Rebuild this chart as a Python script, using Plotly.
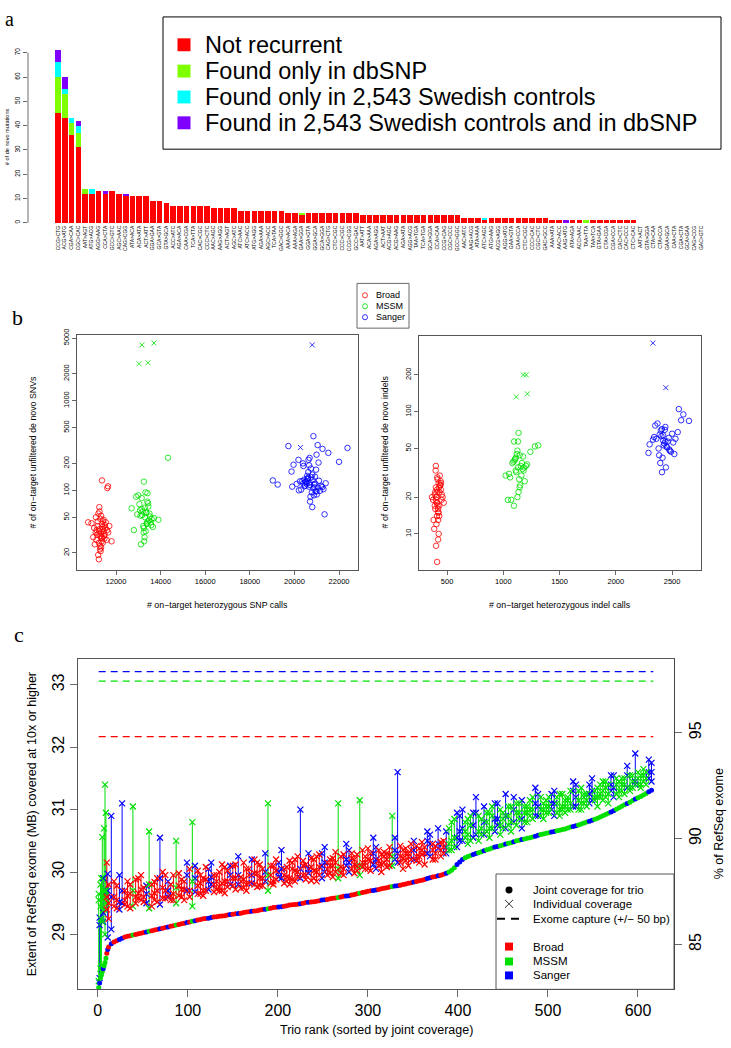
import plotly.graph_objects as go

W, H = 731, 1048
SANS = "Liberation Sans, Arial, Helvetica, sans-serif"
SERIF = "Liberation Serif, DejaVu Serif, serif"


def fx(p):
    return p / W


def fy(p):
    return 1 - p / H


# ---------------- Panel a : recurrent de novo mutation contexts ----------------
mutation_labels = [
    "CCG>CTG", "ACG>ATG", "CGA>CAA", "CGC>CAC", "AAT>AGT", "ATG>ACG", "AGG>AAG", "CCA>CTA", "GCC>GTC", "AGC>AAC",
    "CAG>CGG", "ATA>ACA", "ACA>ATA", "ACT>ATT", "GGA>GAA", "GCA>GTA", "GTA>GCA", "ACC>ATC", "AGA>ACA", "CAA>CGA",
    "TCA>TTA", "CAC>CGC", "CCC>CTC", "AAC>AGC", "AAG>AGG", "ACT>AGT", "AGC>ATC", "ATC>AAC", "ATC>ACC", "ATG>AGG",
    "AGA>AAA", "AGC>ACC", "TCA>TAA", "GAC>GGC", "AAA>ACA", "AAA>AGA", "GAA>GGA", "GGA>GTA", "GGA>GCA", "GCA>GGA",
    "CAG>CTG", "CTC>CGC", "CCC>CGC", "CCG>CGG", "GCC>GAC", "AAT>ATT", "ACA>AAA", "AGA>AGG", "ACT>AAT", "ACG>AGC",
    "ACG>AAG", "AGA>ATA", "AGG>ACG", "TAA>TGA", "TCA>TGA", "GCA>GGA", "CCA>CAA", "CCG>CAG", "CGC>CCC", "GCC>GGC",
    "AAC>ATC", "AAG>ACG", "ATA>AAA", "ATC>AGC", "ATG>AAG", "ACG>AGG", "AGG>ATG", "GAA>GTA", "CAA>CCA", "CTC>CGC",
    "CCC>CAC", "CGC>CTC", "GAC>GCC", "AAA>ATA", "AAC>ACC", "AAG>ATG", "ATA>AGA", "ACC>AAC", "TAA>TTA", "TAA>TCA",
    "GTA>GAA", "CTA>CGA", "CGA>CCA", "CAC>CTC", "CAC>CCC", "CTC>CAC", "AAT>ACT", "GTA>GGA", "CTA>CAA", "CTA>CCA",
    "GAA>GCA", "CAA>CTA", "CGA>CTA", "GCA>GAA", "CAG>CCG", "GAC>GTC",
]
not_recurrent = [
    45, 43, 36, 31, 12, 12, 13, 12, 13, 12,
    11, 11, 11, 11, 9, 9, 8, 7, 7, 7,
    7, 7, 7, 6, 6, 6, 6, 5, 5, 5,
    5, 5, 5, 5, 4, 4, 3, 4, 4, 4,
    4, 4, 4, 4, 4, 3, 3, 3, 3, 3,
    3, 3, 3, 3, 3, 3, 3, 3, 3, 3,
    2, 2, 2, 1, 2, 2, 2, 2, 2, 2,
    2, 2, 2, 1, 1, 0, 1, 1, 0, 1,
    1, 1, 1, 1, 1, 1, 0, 0, 0, 0,
    0, 0, 0, 0, 0, 0,
]
only_dbsnp = [
    15, 10, 5, 6, 2, 0, 0, 0, 0, 0,
    0, 0, 0, 0, 0, 0, 0, 0, 0, 0,
    0, 0, 0, 0, 0, 0, 0, 0, 0, 0,
    0, 0, 0, 0, 0, 0, 1, 0, 0, 0,
    0, 0, 0, 0, 0, 0, 0, 0, 0, 0,
    0, 0, 0, 0, 0, 0, 0, 0, 0, 0,
    0, 0, 0, 0, 0, 0, 0, 0, 0, 0,
    0, 0, 0, 0, 0, 0, 0, 0, 1, 0,
    0, 0, 0, 0, 0, 0, 0, 0, 0, 0,
    0, 0, 0, 0, 0, 0,
]
only_swedish = [
    6, 2, 2, 3, 0, 2, 0, 0, 0, 0,
    0, 0, 0, 0, 0, 0, 0, 0, 0, 0,
    0, 0, 0, 0, 0, 0, 0, 0, 0, 0,
    0, 0, 0, 0, 0, 0, 0, 0, 0, 0,
    0, 0, 0, 0, 0, 0, 0, 0, 0, 0,
    0, 0, 0, 0, 0, 0, 0, 0, 0, 0,
    0, 0, 0, 1, 0, 0, 0, 0, 0, 0,
    0, 0, 0, 0, 0, 0, 0, 0, 0, 0,
    0, 0, 0, 0, 0, 0, 0, 0, 0, 0,
    0, 0, 0, 0, 0, 0,
]
swedish_and_dbsnp = [
    5, 5, 0, 2, 0, 0, 0, 1, 0, 0,
    1, 0, 0, 0, 0, 0, 0, 0, 0, 0,
    0, 0, 0, 0, 0, 0, 0, 0, 0, 0,
    0, 0, 0, 0, 0, 0, 0, 0, 0, 0,
    0, 0, 0, 0, 0, 0, 0, 0, 0, 0,
    0, 0, 0, 0, 0, 0, 0, 0, 0, 0,
    0, 0, 0, 0, 0, 0, 0, 0, 0, 0,
    0, 0, 0, 0, 0, 1, 0, 0, 0, 0,
    0, 0, 0, 0, 0, 0, 0, 0, 0, 0,
    0, 0, 0, 0, 0, 0,
]
bar_series_names = ["Not recurrent", "Found only in dbSNP", "Found only in 2,543 Swedish controls",
                    "Found in 2,543 Swedish controls and in dbSNP"]
bar_series_colors = ["#FF0000", "#7FFF00", "#00FFFF", "#7F00FF"]

# ---------------- Panel b : de novo calls vs heterozygous calls ----------------
broad_snp_calls = [11250, 11380, 11120, 11460, 11300, 11050, 11520, 11210, 11350, 11410,
                   10980, 11600, 11280, 11170, 11330, 11480, 11090, 11230, 11390, 11540,
                   11150, 11310, 11420, 11260, 10900, 11650, 11200, 11360, 11440, 11130,
                   11290, 11500, 11020, 11340, 11250, 11580, 11180, 11400, 11310, 11700,
                   10750, 11450, 11230, 11370, 11100, 11800, 11270, 11330, 11210, 11490,
                   11370, 11640, 11610]
broad_snv_denovo = [35, 42, 28, 31, 48, 25, 38, 33, 27, 45,
                    30, 36, 22, 40, 52, 29, 34, 26, 39, 44,
                    32, 21, 37, 58, 43, 34, 19, 30, 47, 36,
                    24, 41, 38, 33, 65, 28, 45, 26, 31, 40,
                    44, 35, 17, 29, 50, 27, 37, 23, 55, 32,
                    129, 111, 106]
mssm_snp_calls = [13300, 13150, 13420, 13250, 13500, 13050, 13380, 13200, 13600, 12900,
                  13330, 13450, 13100, 13280, 13550, 13000, 13360, 13220, 13700, 12800,
                  13400, 13180, 13480, 13320, 13080, 13650, 13260, 13520, 12700, 13380,
                  13150, 13900, 13240, 13440, 13350, 13120, 13580, 13290, 13410, 12950,
                  14330, 13250]
mssm_snv_denovo = [50, 62, 45, 38, 55, 70, 42, 58, 48, 85,
                   35, 66, 52, 30, 44, 88, 57, 40, 49, 36,
                   75, 53, 46, 95, 60, 39, 27, 51, 63, 43,
                   82, 47, 34, 72, 56, 25, 41, 64, 93, 54,
                   231, 125]
sanger_snp_calls = [20700, 20500, 20850, 20600, 20950, 20400, 20750, 20650, 21100, 20300,
                    20800, 20550, 21000, 20450, 20900, 20680, 20200, 21200, 20620, 20780,
                    20350, 20880, 20720, 21300, 20100, 20570, 20820, 20480, 20990, 20660,
                    21400, 19900, 20740, 20530, 20870, 20610, 21050, 20380, 20930, 20700,
                    20250, 21150, 20580, 20800, 20450, 21250, 20680, 20920,
                    20850, 22380, 22000, 19030, 19250, 21350, 19730, 21040, 21260, 21520,
                    20990, 20180, 20630, 19960, 19870, 20400, 21080, 20970]
sanger_snv_denovo = [115, 125, 105, 135, 98, 120, 140, 110, 128, 102,
                     150, 118, 90, 132, 108, 122, 100, 112, 160, 95,
                     127, 116, 85, 103, 118, 145, 130, 113, 97, 190,
                     120, 110, 175, 124, 88, 138, 107, 200, 119, 75,
                     126, 99, 133, 65, 111, 109, 230, 142,
                     402, 297, 208, 129, 116, 54, 312, 320, 290, 262,
                     250, 219, 219, 193, 162, 187, 204, 170]
mssm_snv_outlier_calls = [13160, 13700, 13030, 13430]
mssm_snv_outlier_denovo = [4190, 4400, 2590, 2650]
sanger_snv_outlier_calls = [20800, 20270]
sanger_snv_outlier_denovo = [4190, 301]

broad_indel_calls = [410, 395, 425, 440, 405, 380, 430, 415, 450, 400,
                     420, 390, 435, 410, 445, 375, 425, 405, 460, 415,
                     398, 432, 418, 385, 442, 408, 428, 395, 452, 412,
                     420, 402, 438, 365, 425, 410, 470, 400, 430, 415,
                     390, 445, 420, 405, 411, 402]
broad_indel_denovo = [18, 22, 15, 25, 20, 13, 17, 28, 19, 24,
                      16, 21, 30, 14, 23, 19, 26, 12, 20, 17,
                      33, 22, 15, 11, 27, 18, 24, 16, 21, 29,
                      13, 19, 25, 20, 10, 23, 18, 36, 14, 22,
                      17, 26, 9, 20, 5.9, 8]
mssm_indel_calls = [1130, 1100, 1160, 1120, 1180, 1080, 1140, 1110, 1200, 1050,
                    1150, 1125, 1170, 1090, 1135, 1210, 1060, 1145, 1115, 1190,
                    1105, 1155, 1125, 1280, 1020, 1165, 1135, 1095, 1175, 1145,
                    1240, 1070, 1130, 1185, 1110, 1094, 1040, 1310]
mssm_indel_denovo = [35, 40, 30, 45, 33, 38, 28, 42, 36, 31,
                     25, 48, 34, 39, 22, 37, 29, 44, 32, 27,
                     41, 36, 20, 52, 30, 38, 67, 57, 43, 24,
                     47, 19, 57, 35, 33, 17, 19, 53]
sanger_indel_calls = [2420, 2390, 2450, 2400, 2480, 2360, 2430, 2410, 2520, 2340,
                      2460, 2380, 2500, 2415, 2440, 2300, 2470, 2395, 2550, 2425,
                      2370, 2490, 2405, 2445, 2330, 2510, 2435, 2385, 2580, 2455,
                      2420, 2600, 2350, 2475, 2410, 2530, 2440, 2290, 2650, 2560]
sanger_indel_denovo = [58, 65, 52, 70, 48, 60, 55, 72, 45, 62,
                       57, 50, 66, 42, 75, 54, 61, 38, 68, 53,
                       80, 47, 63, 35, 59, 56, 71, 44, 85, 51,
                       64, 95, 77, 49, 32, 60, 57, 46, 84, 105]
mssm_indel_outlier_calls = [1178, 1204, 1115, 1213]
mssm_indel_outlier_denovo = [200, 200, 132, 140]
sanger_indel_outlier_calls = [2329, 2444]
sanger_indel_outlier_denovo = [364, 157]

center_names = ["Broad", "MSSM", "Sanger"]
center_codes = ["B", "M", "S"]
center_colors = {"B": "#FF0000", "M": "#00E000", "S": "#0000FF"}

# ---------------- Panel c : coverage per trio (set 1) ----------------
trio_rank = list(range(1, 13)) + list(range(15, 616, 6))
trio_center = list("MSMMMSMMMBSB"
                   "SBSBMBBMBS" "BBMBSMBBSB" "BBSBBBSBBM" "BSBBBSBBBS" "BBMBSBMBBS" "BBMSBBSBBS" "BB"
                   "SMSSMSMSMS" "MSMMSMMSMM" "SMMMSMMSMM" "MSMMMSMMS")
joint_mb = [
    28.15, 28.22, 28.30, 28.35, 28.40, 28.45, 28.50, 28.55, 28.62, 28.70, 28.76, 28.80,
    28.85, 28.90, 28.94, 28.97, 28.99, 29.01, 29.03, 29.05, 29.07, 29.09,
    29.11, 29.13, 29.15, 29.17, 29.19, 29.21, 29.23, 29.25, 29.26, 29.28,
    29.29, 29.30, 29.32, 29.33, 29.34, 29.36, 29.37, 29.38, 29.40, 29.41,
    29.43, 29.44, 29.45, 29.47, 29.48, 29.49, 29.51, 29.52, 29.53, 29.55,
    29.56, 29.58, 29.59, 29.61, 29.62, 29.64, 29.66, 29.68, 29.70, 29.71,
    29.73, 29.75, 29.77, 29.78, 29.80, 29.82, 29.84, 29.86, 29.88, 29.91,
    29.93, 29.95,
    29.98, 30.03, 30.12, 30.20, 30.25, 30.28, 30.31, 30.34, 30.37, 30.40,
    30.42, 30.45, 30.47, 30.50, 30.52, 30.54, 30.56, 30.59, 30.61, 30.63,
    30.65, 30.67, 30.69, 30.72, 30.74, 30.77, 30.80, 30.83, 30.86, 30.90,
    30.94, 30.98, 31.03, 31.08, 31.12, 31.17, 31.21, 31.26, 31.31,
]
child_mb = [
    28.25, 28.30, 28.45, 29.25, 29.60, 29.20, 29.40, 29.00, 29.70, 29.40, 28.95, 29.50,
    29.08, 29.55, 29.50, 29.62, 29.70, 29.58, 29.75, 29.42, 29.66, 29.48,
    29.70, 29.80, 29.50, 29.72, 29.95, 29.45, 29.78, 29.90, 29.85, 29.68,
    30.00, 29.85, 29.80, 29.90, 29.74, 30.05, 29.95, 29.76, 29.90, 29.70,
    30.10, 29.92, 29.82, 30.18, 29.85, 29.90, 30.12, 29.86, 30.00, 30.10,
    29.95, 30.22, 29.90, 30.05, 30.15, 29.98, 30.10, 30.25, 30.02, 30.20,
    30.12, 30.30, 30.10, 30.15, 30.22, 30.10, 30.35, 30.15, 30.30, 30.45,
    30.20, 30.35,
    30.40, 30.50, 30.55, 30.70, 30.60, 30.75, 30.65, 30.80, 30.70, 30.85,
    30.75, 30.90, 30.80, 30.95, 30.85, 30.80, 31.00, 30.90, 31.10, 30.95,
    31.10, 31.00, 31.15, 31.00, 31.20, 31.10, 31.25, 31.15, 31.20, 31.30,
    31.25, 31.35, 31.30, 31.40, 31.35, 31.45, 31.40, 31.50, 31.45,
]
father_mb = [
    29.65, 29.27, 29.80, 29.90, 30.56, 29.35, 30.70, 31.40, 30.95, 30.15, 29.97, 29.80,
    30.90, 29.78, 31.10, 29.45, 31.05, 29.90, 29.52, 30.65, 29.84, 30.55,
    29.58, 29.62, 30.50, 29.88, 29.70, 30.80, 29.65, 29.70, 30.05, 29.95,
    29.76, 29.66, 30.10, 30.12, 29.92, 29.80, 30.20, 29.98, 29.78, 31.10,
    29.85, 30.15, 30.05, 29.90, 30.02, 31.00, 29.88, 30.08, 30.25, 29.90,
    30.15, 29.92, 31.10, 30.28, 30.00, 30.20, 31.15, 30.05, 30.30, 30.40,
    30.28, 30.08, 30.90, 31.60, 30.05, 30.30, 30.20, 30.38, 30.12, 30.25,
    30.42, 30.25,
    30.65, 30.80, 30.95, 30.50, 30.85, 30.55, 30.90, 31.05, 30.55, 30.65,
    31.00, 30.70, 30.65, 30.75, 31.15, 31.05, 30.85, 31.25, 30.85, 31.20,
    30.90, 31.25, 30.95, 31.30, 31.05, 31.35, 31.05, 31.50, 31.05, 31.15,
    31.40, 31.20, 31.45, 31.25, 31.55, 31.90, 31.55, 31.40, 31.75,
]
mother_mb = [
    29.55, 29.15, 29.45, 28.50, 29.20, 29.90, 29.70, 29.60, 29.50, 29.60, 29.70, 29.25,
    29.60, 29.42, 29.70, 29.85, 29.45, 29.66, 29.60, 29.80, 29.55, 29.90,
    29.95, 29.55, 29.75, 29.60, 30.15, 29.85, 30.02, 29.62, 29.72, 29.80,
    29.70, 30.08, 29.95, 29.72, 29.85, 29.70, 29.82, 30.15, 30.05, 29.95,
    29.80, 30.00, 29.95, 29.80, 30.20, 30.05, 29.95, 30.22, 29.85, 30.30,
    30.05, 30.10, 30.05, 29.95, 30.35, 30.12, 29.95, 30.15, 30.18, 30.05,
    30.00, 30.20, 30.25, 30.30, 30.35, 30.25, 30.50, 30.25, 30.40, 30.60,
    30.30, 30.48,
    30.30, 30.35, 30.40, 31.00, 30.45, 30.95, 30.50, 30.60, 30.95, 31.10,
    30.60, 31.25, 31.05, 31.10, 30.70, 30.95, 31.20, 31.05, 31.00, 31.05,
    31.30, 30.90, 31.05, 31.10, 31.40, 31.00, 31.15, 31.30, 31.35, 31.45,
    31.10, 31.55, 31.20, 31.50, 31.30, 31.40, 31.35, 31.60, 31.60,
]

# ---------------- Panel c : coverage per trio (set 2, in-between ranks) ----------------
trio_rank_2 = list(range(18, 613, 6))
trio_center_2 = list("BSBBBBSBBB" "SBBBBSBBSB" "BBBSBBBBSB" "BSBBBBSBBS" "BBBSBBBBSB" "BBSBBBBBSB" "SB"
                     "MMSMMSMMMS" "MMSMMMSMMS" "MMMSMMSMMM" "SMMSMMMS")
joint_mb_2 = [
    28.88, 28.92, 28.96, 28.98, 29.00, 29.02, 29.04, 29.06, 29.08, 29.10,
    29.12, 29.14, 29.16, 29.18, 29.20, 29.22, 29.24, 29.255, 29.27, 29.285,
    29.295, 29.31, 29.325, 29.335, 29.35, 29.365, 29.375, 29.39, 29.405, 29.42,
    29.435, 29.445, 29.46, 29.475, 29.485, 29.50, 29.515, 29.525, 29.54, 29.555,
    29.57, 29.585, 29.60, 29.615, 29.63, 29.65, 29.67, 29.69, 29.705, 29.72,
    29.74, 29.76, 29.775, 29.79, 29.81, 29.83, 29.85, 29.87, 29.895, 29.92,
    29.94, 29.965,
    30.00, 30.07, 30.16, 30.23, 30.265, 30.295, 30.325, 30.355, 30.385, 30.41,
    30.435, 30.46, 30.485, 30.51, 30.53, 30.55, 30.575, 30.60, 30.62, 30.64,
    30.66, 30.68, 30.705, 30.73, 30.755, 30.785, 30.815, 30.845, 30.88, 30.92,
    30.96, 31.005, 31.055, 31.10, 31.145, 31.19, 31.235, 31.285,
]
child_mb_2 = [
    29.60, 29.52, 29.70, 29.42, 29.88, 29.55, 29.65, 29.80, 29.52, 29.75,
    29.60, 29.95, 29.62, 29.85, 29.70, 29.90, 29.65, 29.88, 30.15, 29.72,
    29.82, 30.02, 29.78, 29.95, 29.88, 30.05, 29.80, 30.12, 29.85, 29.95,
    30.20, 29.90, 30.08, 29.88, 30.25, 29.95, 30.30, 30.02, 29.95, 30.15,
    30.20, 30.00, 30.25, 30.10, 30.05, 30.28, 30.15, 30.05, 30.30, 30.18,
    30.32, 30.10, 30.35, 30.25, 30.38, 30.20, 30.42, 30.28, 30.50, 30.35,
    30.45, 30.30,
    30.45, 30.55, 30.65, 30.55, 30.75, 30.60, 30.85, 30.65, 30.90, 30.75,
    30.95, 30.75, 31.00, 30.85, 31.05, 30.90, 31.10, 31.00, 31.15, 31.00,
    31.10, 31.05, 31.20, 31.05, 31.15, 31.25, 31.10, 31.30, 31.20, 31.35,
    31.30, 31.40, 31.30, 31.55, 31.45, 31.40, 31.55, 31.50,
]
father_mb_2 = [
    29.45, 29.95, 29.55, 29.80, 29.60, 29.72, 29.50, 29.62, 29.90, 29.58,
    29.85, 29.65, 29.78, 29.55, 30.05, 29.68, 29.82, 30.08, 29.80, 29.95,
    29.70, 29.85, 30.10, 29.80, 30.15, 29.82, 29.98, 29.90, 30.30, 30.10,
    29.88, 30.05, 29.92, 30.15, 30.00, 30.18, 30.05, 29.90, 30.28, 30.00,
    29.98, 30.32, 30.08, 30.45, 30.22, 30.10, 30.35, 30.20, 30.12, 30.35,
    30.15, 30.28, 30.20, 30.42, 30.18, 30.35, 30.25, 30.48, 30.30, 30.20,
    30.70, 30.50,
    30.70, 30.40, 30.90, 30.80, 30.50, 30.95, 30.60, 30.95, 30.70, 31.10,
    30.70, 31.05, 30.80, 31.10, 30.80, 31.15, 30.90, 31.20, 30.95, 31.25,
    30.95, 31.25, 31.00, 31.30, 31.00, 31.10, 31.40, 31.15, 31.40, 31.20,
    31.55, 31.25, 31.50, 31.35, 31.35, 31.60, 31.45, 31.80,
]
mother_mb_2 = [
    29.85, 29.40, 29.48, 29.65, 29.50, 29.95, 29.78, 29.45, 29.70, 30.00,
    29.70, 29.55, 29.98, 29.72, 29.60, 30.10, 29.95, 29.70, 29.92, 29.85,
    30.12, 29.76, 29.90, 30.25, 29.75, 29.95, 30.20, 29.78, 30.00, 29.82,
    30.02, 30.35, 29.85, 30.05, 29.92, 30.10, 29.98, 30.20, 30.08, 30.40,
    30.10, 30.15, 29.98, 30.20, 30.30, 30.02, 30.08, 30.38, 30.55, 30.10,
    30.25, 30.40, 30.55, 30.15, 30.30, 30.45, 30.18, 30.35, 30.65, 30.45,
    30.38, 30.40,
    30.35, 30.85, 30.50, 30.65, 30.90, 31.20, 30.70, 30.80, 31.05, 30.85,
    30.85, 30.90, 31.20, 30.95, 30.95, 31.00, 31.35, 30.90, 31.05, 31.10,
    31.20, 31.00, 31.15, 31.45, 31.30, 31.20, 31.25, 31.20, 31.25, 31.45,
    31.40, 31.50, 31.40, 31.70, 31.55, 31.50, 31.65, 31.60,
]

capture_mb = {"B": 32.17, "M": 33.06, "S": 33.21}
capture_rank_span = [1, 617]
exome_total_mb = 33.93
cov_range_mb = [28.12, 33.41]

all_trios = sorted(zip(trio_rank + trio_rank_2, trio_center + trio_center_2, joint_mb + joint_mb_2,
                       child_mb + child_mb_2, father_mb + father_mb_2, mother_mb + mother_mb_2))

# ---------------- build figure ----------------
fig = go.Figure()

bar_pos = list(range(len(mutation_labels)))
for name, vals, col in zip(bar_series_names,
                           [not_recurrent, only_dbsnp, only_swedish, swedish_and_dbsnp],
                           bar_series_colors):
    fig.add_trace(go.Bar(x=bar_pos, y=vals, name=name, marker=dict(color=col, line=dict(width=0)),
                         width=0.83, xaxis="x", yaxis="y", hoverinfo="skip"))


def open_pts(x, y, col, xa, ya, sym="circle-open", size=5.5):
    return go.Scatter(x=x, y=y, mode="markers", xaxis=xa, yaxis=ya, hoverinfo="skip",
                      marker=dict(symbol=sym, size=size, color=col, line=dict(width=0.8, color=col)))


fig.add_trace(open_pts(broad_snp_calls, broad_snv_denovo, center_colors["B"], "x2", "y2"))
fig.add_trace(open_pts(mssm_snp_calls, mssm_snv_denovo, center_colors["M"], "x2", "y2"))
fig.add_trace(open_pts(sanger_snp_calls, sanger_snv_denovo, center_colors["S"], "x2", "y2"))
fig.add_trace(open_pts(mssm_snv_outlier_calls, mssm_snv_outlier_denovo, center_colors["M"], "x2", "y2", "x-thin-open", 5))
fig.add_trace(open_pts(sanger_snv_outlier_calls, sanger_snv_outlier_denovo, center_colors["S"], "x2", "y2", "x-thin-open", 5))
fig.add_trace(open_pts(broad_indel_calls, broad_indel_denovo, center_colors["B"], "x3", "y3"))
fig.add_trace(open_pts(mssm_indel_calls, mssm_indel_denovo, center_colors["M"], "x3", "y3"))
fig.add_trace(open_pts(sanger_indel_calls, sanger_indel_denovo, center_colors["S"], "x3", "y3"))
fig.add_trace(open_pts(mssm_indel_outlier_calls, mssm_indel_outlier_denovo, center_colors["M"], "x3", "y3", "x-thin-open", 5))
fig.add_trace(open_pts(sanger_indel_outlier_calls, sanger_indel_outlier_denovo, center_colors["S"], "x3", "y3", "x-thin-open", 5))

for code in center_codes:
    fig.add_trace(go.Scatter(x=capture_rank_span, y=[capture_mb[code]] * 2, mode="lines",
                             line=dict(color=center_colors[code], width=1.3, dash="7px,5px"),
                             xaxis="x4", yaxis="y4", hoverinfo="skip"))

for code in ["S", "M", "B"]:
    xs, ys = [], []
    for r, c, j, a, b, m in all_trios:
        if c == code:
            xs += [r, r, None]
            ys += [min(a, b, m), max(a, b, m), None]
    fig.add_trace(go.Scatter(x=xs, y=ys, mode="lines", line=dict(color=center_colors[code], width=1.0),
                             xaxis="x4", yaxis="y4", hoverinfo="skip"))

for code in ["S", "M", "B"]:
    xs, ys = [], []
    for r, c, j, a, b, m in all_trios:
        if c == code:
            xs += [r, r, r]
            ys += [a, b, m]
    fig.add_trace(go.Scatter(x=xs, y=ys, mode="markers", xaxis="x4", yaxis="y4", hoverinfo="skip",
                             marker=dict(symbol="x-thin-open", size=6, color=center_colors[code],
                                         line=dict(width=1.2, color=center_colors[code]))))

fig.add_trace(go.Scatter(x=[t[0] for t in all_trios], y=[t[2] for t in all_trios], mode="markers",
                         xaxis="x4", yaxis="y4", hoverinfo="skip",
                         marker=dict(symbol="circle", size=5, color=[center_colors[t[1]] for t in all_trios],
                                     line=dict(width=0))))
fig.add_trace(go.Scatter(x=[None], y=[None], mode="markers", xaxis="x4", yaxis="y5", hoverinfo="skip"))

AX = "#444444"
common_ax = dict(showgrid=False, zeroline=False, ticks="outside", tickcolor=AX, tickwidth=0.8,
                 linecolor=AX, linewidth=0.9)
tick_only = dict(showgrid=False, zeroline=False, ticks="outside", tickcolor=AX, tickwidth=0.8)

fig.update_layout(
    width=W, height=H, margin=dict(l=0, r=0, t=0, b=0),
    paper_bgcolor="white", plot_bgcolor="white", showlegend=False,
    barmode="stack", font=dict(family=SANS, color="black"),
    xaxis=dict(domain=[fx(28), fx(706)], range=[-4.43, 95.7], tickmode="array", tickvals=bar_pos,
               ticktext=mutation_labels, tickangle=-90, tickfont=dict(size=5), ticks="",
               showline=False, showgrid=False, zeroline=False, anchor="y"),
    yaxis=dict(domain=[fy(219), fy(40)], range=[-0.41, 72.86], tickmode="array",
               tickvals=[0, 10, 20, 30, 40, 50, 60, 70], tickangle=-90, tickfont=dict(size=6.5),
               ticklen=4, showline=False, anchor="x", **tick_only),
    xaxis2=dict(domain=[fx(77), fx(358)], range=[10250, 22850], tickmode="array",
                tickvals=[12000, 14000, 16000, 18000, 20000, 22000],
                ticktext=["12000", "14000", "16000", "18000", "20000", "22000"], tickfont=dict(size=7.5),
                ticklen=4, showline=True, mirror=True, anchor="y2", **common_ax),
    yaxis2=dict(domain=[fy(567), fy(331)], type="log", range=[1.114, 3.732], tickmode="array",
                tickvals=[20, 50, 100, 200, 500, 1000, 2000, 5000],
                ticktext=["20", "50", "100", "200", "500", "1000", "2000", "5000"],
                tickangle=-90, tickfont=dict(size=7.5), ticklen=4, showline=True, mirror=True,
                anchor="x2", **common_ax),
    xaxis3=dict(domain=[fx(419), fx(701)], range=[250, 2757], tickmode="array",
                tickvals=[500, 1000, 1500, 2000, 2500], ticktext=["500", "1000", "1500", "2000", "2500"],
                tickfont=dict(size=7.5), ticklen=4, showline=True, mirror=True, anchor="y3", **common_ax),
    yaxis3=dict(domain=[fy(567), fy(332)], type="log", range=[0.707, 2.618], tickmode="array",
                tickvals=[10, 20, 50, 100, 200], ticktext=["10", "20", "50", "100", "200"],
                tickangle=-90, tickfont=dict(size=7.5), ticklen=4, showline=True, mirror=True,
                anchor="x3", **common_ax),
    xaxis4=dict(domain=[fx(78), fx(674)], range=[-22, 640], tickmode="array",
                tickvals=[0, 100, 200, 300, 400, 500, 600], tickfont=dict(size=16),
                ticklen=7, showline=True, mirror=True, anchor="y4", **common_ax),
    yaxis4=dict(domain=[fy(989), fy(657)], range=cov_range_mb, tickmode="array",
                tickvals=[29, 30, 31, 32, 33], tickangle=-90, tickfont=dict(size=16),
                ticklen=7, showline=True, mirror=True, anchor="x4", **common_ax),
    yaxis5=dict(overlaying="y4", side="right", anchor="x4",
                range=[v / exome_total_mb * 100 for v in cov_range_mb], tickmode="array",
                tickvals=[85, 90, 95], tickangle=-90, tickfont=dict(size=16), ticklen=7,
                showline=True, **common_ax),
)

shapes = []
annotations = []


def txt(s, x, y, size, angle=0, xanchor="center", yanchor="middle", family=SANS):
    annotations.append(dict(text=s, x=fx(x), y=fy(y), xref="paper", yref="paper", showarrow=False,
                            textangle=angle, xanchor=xanchor, yanchor=yanchor,
                            font=dict(size=size, family=family, color="black")))


txt("a", 9, 13, 20, family=SERIF)
txt("b", 17, 313, 22, family=SERIF)
txt("c", 19, 632, 22, family=SERIF)

shapes.append(dict(type="line", xref="paper", yref="y", x0=fx(28), x1=fx(28), y0=0, y1=70,
                   line=dict(color=AX, width=0.8)))
txt("# of de novo mutations", 7, 132, 5.6, angle=-90)

shapes.append(dict(type="rect", xref="paper", yref="paper", x0=fx(163), x1=fx(721), y0=fy(144), y1=fy(11),
                   line=dict(color="black", width=1), fillcolor="white", layer="below"))
for name, col, row in zip(bar_series_names, bar_series_colors, [39, 65.5, 91.5, 117.5]):
    shapes.append(dict(type="rect", xref="paper", yref="paper", x0=fx(177.5), x1=fx(190.5),
                       y0=fy(row + 6.5), y1=fy(row - 6.5), fillcolor=col, line=dict(width=0)))
    txt(name, 203, row, 23.5, xanchor="left")

txt("# of on\u2212target unfiltered de novo SNVs", 33, 449, 8.8, angle=-90)
txt("# on\u2212target heterozygous SNP calls", 217, 602, 8.8)
txt("# of on\u2212target unfiltered de novo indels", 385, 449, 8.8, angle=-90)
txt("# on\u2212target heterozygous indel calls", 560, 602, 8.8)

shapes.append(dict(type="rect", xref="paper", yref="paper", x0=fx(357), x1=fx(409), y0=fy(324), y1=fy(279),
                   line=dict(color=AX, width=0.8)))
for name, code, row in zip(center_names, center_codes, [291, 302, 313]):
    shapes.append(dict(type="circle", xref="paper", yref="paper", x0=fx(362.5), x1=fx(367.5),
                       y0=fy(row + 2.6), y1=fy(row - 2.6), line=dict(color=center_colors[code], width=0.8)))
    txt(name, 374, row, 9, xanchor="left")

txt("Extent of RefSeq exome (MB) covered at 10x or higher", 32, 823, 12.5, angle=-90)
txt("% of RefSeq exome", 719, 823, 12.5, angle=-90)
txt("Trio rank (sorted by joint coverage)", 376, 1030, 12.5)

shapes.append(dict(type="rect", xref="paper", yref="paper", x0=fx(496), x1=fx(674), y0=fy(989), y1=fy(873),
                   line=dict(color=AX, width=0.9), fillcolor="white"))
shapes.append(dict(type="circle", xref="paper", yref="paper", x0=fx(505.5), x1=fx(512.5), y0=fy(892.5),
                   y1=fy(885.5), fillcolor="black", line=dict(width=0)))
shapes.append(dict(type="line", xref="paper", yref="paper", x0=fx(505), x1=fx(513), y0=fy(899), y1=fy(907),
                   line=dict(color="#333", width=1)))
shapes.append(dict(type="line", xref="paper", yref="paper", x0=fx(505), x1=fx(513), y0=fy(907), y1=fy(899),
                   line=dict(color="#333", width=1)))
shapes.append(dict(type="line", xref="paper", yref="paper", x0=fx(497), x1=fx(522), y0=fy(918), y1=fy(918),
                   line=dict(color="black", width=2.2, dash="8px,6px")))
for code, row in zip(center_codes, [946, 961, 975]):
    shapes.append(dict(type="rect", xref="paper", yref="paper", x0=fx(505), x1=fx(513), y0=fy(row + 4),
                       y1=fy(row - 4), fillcolor=center_colors[code], line=dict(width=0)))
for s, row in zip(["Joint coverage for trio", "Individual coverage", "Exome capture (+/\u2212 50 bp)"],
                  [889, 903, 918]):
    txt(s, 531, row, 11.5, xanchor="left")
for name, row in zip(center_names, [946, 961, 975]):
    txt(name, 531, row, 11.5, xanchor="left")

fig.update_layout(shapes=shapes, annotations=annotations)
fig.write_html("out.html", config={"displayModeBar": False, "staticPlot": True},
               post_script="document.body.style.margin='0px';document.body.style.padding='0px';"
                           "document.body.style.overflow='hidden';")
